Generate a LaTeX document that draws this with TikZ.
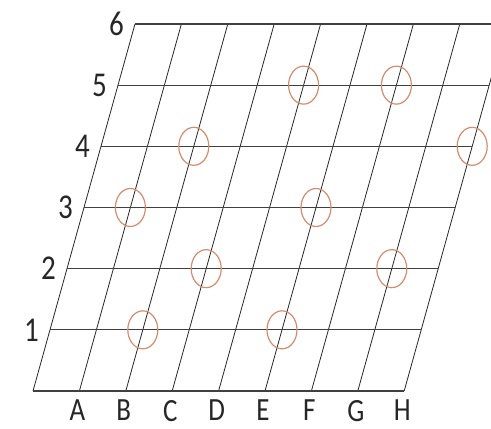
\documentclass[tikz,border=0pt]{standalone}
\usepackage{fontspec}
\usepackage{graphicx}
\setmainfont{Carlito}
\usetikzlibrary{shapes.geometric}
\definecolor{ringcol}{RGB}{212,140,112}
\newcommand{\glab}[1]{\scalebox{1}[1.2]{#1}}
\tikzset{
  hline/.style={line width=1.2pt, black!75},
  vline/.style={line width=0.8pt, black!85},
  ring/.style={draw=ringcol, line width=1.2pt, ellipse, minimum width=30pt, minimum height=38pt, inner sep=0pt},
  rowlab/.style={anchor=east, inner sep=0pt, xshift=-11pt, font=\fontsize{29}{30}\selectfont, text=black!85},
  collab/.style={anchor=north, inner sep=0pt, yshift=-9pt, xshift=-2pt, font=\fontsize{27}{28}\selectfont, text=black!85}
}
\begin{document}
\begin{tikzpicture}[x=1pt,y=1pt]
\useasboundingbox (0,0) rectangle (491,429);
\clip (0,0) rectangle (491,429);
\begin{scope}[shift={(33pt,38pt)}, x={(46.4pt,0pt)}, y={(17pt,61.17pt)}]
  \foreach \i in {0,...,8} {
    \coordinate (b\i) at (\i,0);
    \coordinate (t\i) at (\i,6);
  }
  \foreach \j in {0,...,6} {
    \coordinate (l\j) at (0,\j);
    \coordinate (r\j) at (8,\j);
  }
  \foreach \i in {0,...,8} \draw[vline] (b\i) -- (t\i);
  \foreach \j in {0,...,6} \draw[hline] (l\j) -- (r\j);
  \foreach \j in {1,...,6} \node[rowlab] (n\j) at (l\j) {\glab{\j}};
  \foreach \i/\L in {1/A,2/B,3/C,4/D,5/E,6/F,7/G,8/H}
    \node[collab] (c\L) at (b\i) {\glab{\L}};
  \foreach \i/\j in {4/5,6/5,2/4,8/4,1/3,5/3,3/2,7/2,2/1,5/1}
    \node[ring] (p\i\j) at (\i,\j) {};
\end{scope}
\end{tikzpicture}
\end{document}
